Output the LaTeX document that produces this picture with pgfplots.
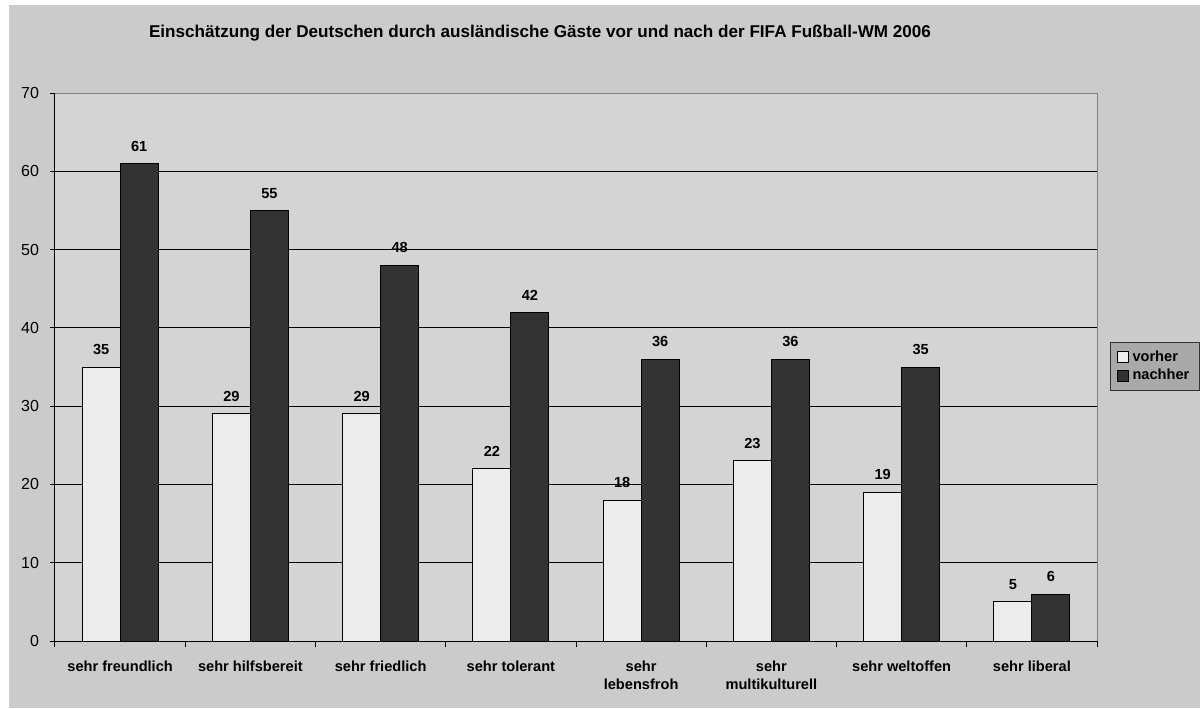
\documentclass[border=0pt]{standalone}
\usepackage{pgfplots}
\pgfplotsset{compat=1.18}
\usepackage{fontspec}
\setmainfont{Liberation Sans}
\definecolor{outerbg}{HTML}{CBCBCB}
\definecolor{plotbg}{HTML}{D4D4D4}
\definecolor{vorher}{HTML}{ECECEC}
\definecolor{nachher}{HTML}{333333}
\definecolor{legendbg}{HTML}{A9A9A9}
\definecolor{frame}{HTML}{808080}
\newcommand{\lab}{\bfseries\fontsize{7.3}{9}\selectfont}
\begin{document}
\begin{tikzpicture}
\useasboundingbox (0,0) rectangle (600pt,354pt);
\fill[white] (0,0) rectangle (600pt,354pt);
\fill[outerbg] (4.5pt,0) rectangle (600pt,351.5pt);
\node[font=\bfseries\fontsize{8.55}{10}\selectfont, anchor=center] at (270pt,337.5pt) {Einschätzung der Deutschen durch ausländische Gäste vor und nach der FIFA Fußball-WM 2006};
\begin{axis}[
  at={(27.5pt,33.5pt)}, anchor=south west,
  width=521pt, height=274pt, scale only axis,
  axis background/.style={fill=plotbg},
  ybar=0pt, bar width=19pt,
  xmin=-0.5, xmax=7.5, ymin=0, ymax=70,
  xtick={0,...,7},
  xticklabels={sehr freundlich, sehr hilfsbereit, sehr friedlich, sehr tolerant, {sehr\\lebensfroh}, {sehr\\multikulturell}, sehr weltoffen, sehr liberal},
  minor xtick={-0.5,0.5,...,7.5},
  major x tick style={draw=none},
  ytick={0,10,...,70},
  tick align=outside, tick pos=left,
  major tick length=2.5pt, minor tick length=3pt,
  tick style={black, line width=0.5pt},
  ymajorgrids, grid style={black, line width=0.5pt},
  axis line style={black, line width=0.5pt},
  xticklabel style={font=\lab, align=center, yshift=-4pt},
  yticklabel style={font=\fontsize{8}{9}\selectfont, xshift=-2pt},
  /pgf/number format/assume math mode=true,
  nodes near coords,
  every node near coord/.append style={font=\lab, black, yshift=2.5pt},
  legend style={at={(1.0125,0.5456)}, anchor=north west, fill=legendbg, draw=black!80, line width=0.5pt, font=\lab, row sep=-1.5pt, inner xsep=3pt, inner ysep=2pt},
  legend cell align=left,
  legend image code/.code={\draw[#1] (0pt,-2.75pt) rectangle (5.5pt,2.75pt);},
  after end axis/.code={\draw[frame, line width=0.5pt] (rel axis cs:0,1) -- (rel axis cs:1,1) -- (rel axis cs:1,0);},
]
\addplot[fill=vorher, draw=black, line width=0.5pt] coordinates {(0,35) (1,29) (2,29) (3,22) (4,18) (5,23) (6,19) (7,5)};
\addplot[fill=nachher, draw=black, line width=0.5pt] coordinates {(0,61) (1,55) (2,48) (3,42) (4,36) (5,36) (6,35) (7,6)};
\legend{vorher, nachher}
\end{axis}
\end{tikzpicture}
\end{document}
